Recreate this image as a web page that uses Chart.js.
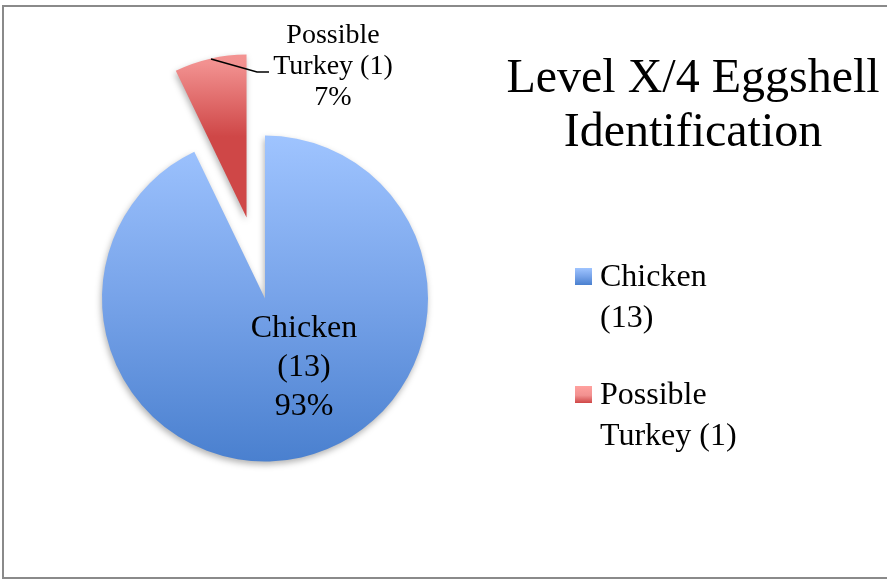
<!DOCTYPE html>
<html>
<head>
<meta charset="utf-8">
<script src="https://cdn.jsdelivr.net/npm/chart.js@4/dist/chart.umd.min.js"></script>
<style>
  html, body { margin: 0; padding: 0; background: #fff; }
  #wrap { position: relative; width: 887px; height: 582px; }
  #frame { position: absolute; left: 2px; top: 5px; width: 890px; height: 574px; border: 2px solid #8a8a8a; box-sizing: border-box; }
  canvas { position: absolute; left: 0; top: 0; }
</style>
</head>
<body>
<div id="wrap">
  <div id="frame"></div>
  <canvas id="eggChart" width="887" height="582"></canvas>
</div>
<script>
// Data
const categories = ['Chicken', 'Possible Turkey'];
const counts = [13, 1];
const explode = [0, 83];   // how far each slice is pulled out (px)
const titleLines = ['Level X/4 Eggshell', 'Identification'];
const dataLabelLines = [['Chicken', '(13)'], ['Possible', 'Turkey (1)']];
const legendLines = [['Chicken', '(13)'], ['Possible', 'Turkey (1)']];
const gradients = [
    [[0, '#9fc4ff'], [0.5, '#77a3e9'], [1, '#4a80cf']],
    [[0, '#ffa19e'], [0.55, '#f29190'], [1, '#cf4747']]
];

const RADIUS = 163;
const FONT = '"Liberation Serif", serif';

const total = counts.reduce((a, b) => a + b, 0);
const percents = counts.map(v => Math.round(v / total * 100) + '%');

function sliceAngles(i) {
    let before = 0;
    for (let k = 0; k < i; k++) before += counts[k];
    const start = -Math.PI / 2 + 2 * Math.PI * before / total;
    const end = start + 2 * Math.PI * counts[i] / total;
    return { start, end, mid: (start + end) / 2, span: end - start };
}

function makeGradient(ctx, i, top, bottom) {
    const g = ctx.createLinearGradient(0, top, 0, bottom);
    gradients[i].forEach(([stop, color]) => g.addColorStop(stop, color));
    return g;
}

function sliceFill(context) {
    const chart = context.chart;
    const area = chart.chartArea;
    const i = context.dataIndex;
    if (!area) return gradients[i][0][1];
    const cy = (area.top + area.bottom) / 2;
    const dy = Math.sin(sliceAngles(i).mid) * explode[i];
    const top = cy + dy - RADIUS;
    const bottom = i === 0 ? cy + RADIUS : cy + dy;
    return makeGradient(chart.ctx, i, top, bottom);
}

// Chart.js moves an arc by offset/4, grows small arcs and trims their angle;
// undo the growth and the trim so the pulled slice keeps its true shape
const explodePlugin = {
    id: 'explode',
    afterDatasetsUpdate(chart) {
        const meta = chart.getDatasetMeta(0);
        meta.data.forEach((arc, i) => {
            const a = sliceAngles(i);
            const fix = 1 - Math.sin(Math.min(Math.PI, a.span));
            const grow = explode[i] * fix;
            arc.outerRadius = RADIUS - grow;
            const widen = grow / (Math.PI * RADIUS) / 2;
            arc.startAngle = a.start - widen;
            arc.endAngle = a.end + widen;
        });
    }
};

const shadowPlugin = {
    id: 'shadow',
    beforeDatasetsDraw(chart) {
        const ctx = chart.ctx;
        ctx.save();
        ctx.shadowColor = 'rgba(0,0,0,0.3)';
        ctx.shadowBlur = 6;
        ctx.shadowOffsetX = -1;
        ctx.shadowOffsetY = 3;
    },
    afterDatasetsDraw(chart) {
        chart.ctx.restore();
    }
};

const textPlugin = {
    id: 'texts',
    afterDraw(chart) {
        const ctx = chart.ctx;
        ctx.save();
        ctx.fillStyle = '#000';
        ctx.textAlign = 'center';
        ctx.textBaseline = 'middle';

        // title
        ctx.font = '48px ' + FONT;
        ctx.fillText(titleLines[0], 693, 79);
        ctx.fillText(titleLines[1], 693, 133);

        // chicken label inside the slice
        ctx.font = '32px ' + FONT;
        const chickenText = [...dataLabelLines[0], percents[0]];
        chickenText.forEach((t, k) => ctx.fillText(t, 304, 329 + k * 39));

        // turkey label outside with leader line
        ctx.font = '28px ' + FONT;
        const turkeyText = [...dataLabelLines[1], percents[1]];
        turkeyText.forEach((t, k) => ctx.fillText(t, 333, 36 + k * 31));
        ctx.strokeStyle = '#000';
        ctx.lineWidth = 1.5;
        ctx.beginPath();
        ctx.moveTo(211, 59);
        ctx.lineTo(257, 72);
        ctx.lineTo(269, 72);
        ctx.stroke();

        // legend
        const legendTop = [277, 395];
        ctx.textAlign = 'left';
        ctx.font = '32px ' + FONT;
        categories.forEach((c, i) => {
            const y = legendTop[i];
            ctx.fillStyle = makeGradient(ctx, i, y - 9, y + 8);
            ctx.fillRect(575, y - 9, 17, 17);
            ctx.fillStyle = '#000';
            legendLines[i].forEach((t, k) => ctx.fillText(t, 600, y + 1 + k * 41));
        });
        ctx.restore();
    }
};

new Chart(document.getElementById('eggChart'), {
    type: 'pie',
    data: {
        labels: categories,
        datasets: [{
            data: counts,
            backgroundColor: sliceFill,
            borderWidth: 0,
            offset: explode.map(v => v * 4),
            hoverOffset: 0,
            radius: RADIUS
        }]
    },
    options: {
        responsive: false,
        animation: false,
        layout: { padding: { left: 100, right: 457, top: 133, bottom: 118 } },
        plugins: {
            legend: { display: false },
            tooltip: { enabled: false }
        }
    },
    plugins: [explodePlugin, shadowPlugin, textPlugin]
});
</script>
</body>
</html>
